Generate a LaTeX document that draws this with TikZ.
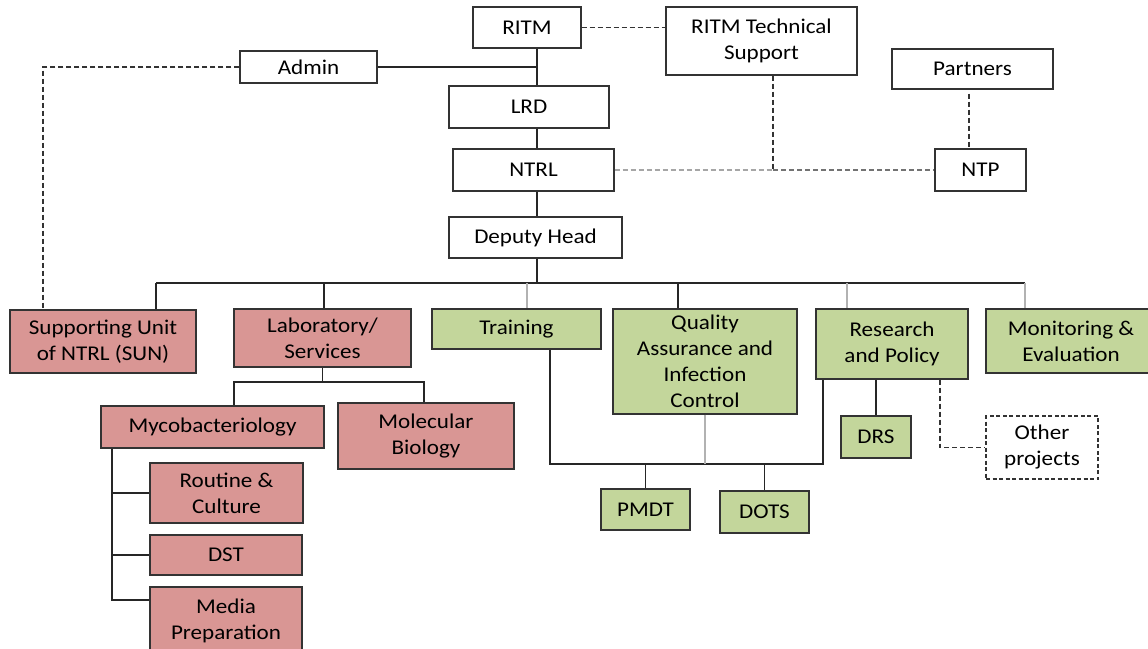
\documentclass[tikz,border=0pt]{standalone}
\usepackage{fontspec}
\setmainfont{Carlito}[FakeStretch=1.1]
\usepackage{tikz}

\definecolor{labred}{HTML}{D99694}
\definecolor{progreen}{HTML}{C3D69B}
\definecolor{boxline}{HTML}{333333}

\begin{document}
\begin{tikzpicture}[x=1pt,y=-1pt,
    unit/.style={draw=boxline,line width=1.3pt,align=center,inner sep=2pt,
      font=\fontsize{21}{26}\selectfont},
    labunit/.style={unit,fill=labred},
    progunit/.style={unit,fill=progreen},
    conn/.style={line width=1.4pt,black!85},
    softconn/.style={line width=2pt,black!30},
    dashconn/.style={line width=1.4pt,black!80,dash pattern=on 5pt off 3pt}]
      \useasboundingbox (0,0) rectangle (1148,648);
      \node[unit,minimum width=108,minimum height=41] (ritm) at (527,27.5) {RITM};
      \node[unit,minimum width=191,minimum height=68] (rts) at (761.5,41) {RITM Technical\\Support};
      \node[unit,minimum width=137,minimum height=32] (admin) at (308.5,67) {Admin};
      \node[unit,minimum width=161,minimum height=40] (partners) at (972.5,69) {Partners};
      \node[unit,minimum width=160,minimum height=42] (lrd) at (529,107) {LRD};
      \node[unit,minimum width=161,minimum height=42] (ntrl) at (533.5,170) {NTRL};
      \node[unit,minimum width=91,minimum height=42] (ntp) at (980.5,170) {NTP};
      \node[unit,minimum width=173,minimum height=41] (dep) at (535.5,237.5) {Deputy Head};
      \node[labunit,minimum width=186,minimum height=63] (sun) at (103,341.5) {Supporting Unit\\of NTRL (SUN)};
      \node[labunit,minimum width=177,minimum height=58] (lab) at (322.5,338) {Laboratory/\\Services};
      \node[progunit,minimum width=169,minimum height=40] (trn) at (516.5,329) {Training};
      \node[progunit,minimum width=184,minimum height=105] (qa) at (705,361.5) {Quality\\Assurance and\\Infection\\Control};
      \node[progunit,minimum width=152,minimum height=70] (rp) at (892,344) {Research\\and Policy};
      \node[progunit,minimum width=170,minimum height=64] (me) at (1071,341) {Monitoring \&\\Evaluation};
      \node[labunit,minimum width=223,minimum height=42] (myco) at (212.5,427) {Mycobacteriology};
      \node[labunit,minimum width=176,minimum height=66] (molbio) at (426,436) {Molecular\\Biology};
      \node[labunit,minimum width=153,minimum height=60] (rc) at (226.5,493) {Routine \&\\Culture};
      \node[labunit,minimum width=152,minimum height=40] (dst) at (226,555) {DST};
      \node[labunit,minimum width=152,minimum height=68] (media) at (226,621) {Media\\Preparation};
      \node[progunit,minimum width=89,minimum height=41] (pmdt) at (645.5,509.5) {PMDT};
      \node[progunit,minimum width=89,minimum height=42] (dots) at (764.5,512) {DOTS};
      \node[progunit,minimum width=70,minimum height=42] (drs) at (876,437) {DRS};
      \node[unit,dash pattern=on 4pt off 2.5pt,minimum width=112,minimum height=63] (other) at (1042,447.5) {Other\\projects};

      \coordinate (bus) at (537,283);
      \coordinate (bsun) at (156,283);
      \coordinate (bme) at (1025,283);
      \draw[conn] (ritm.south -| bus) -- (lrd.north -| bus);
      \draw[conn] (admin.east) -- (admin.east -| bus);
      \draw[conn] (lrd.south -| bus) -- (ntrl.north -| bus);
      \draw[conn] (ntrl.south -| bus) -- (dep.north -| bus);
      \draw[conn] (dep.south -| bus) -- (bus);
      \draw[conn] (bsun) -- (bme);
      \foreach \x/\n/\s in {156/sun/conn,324/lab/conn,527/trn/softconn,678/qa/conn,847/rp/softconn,1025/me/softconn}{
        \coordinate (drop) at (\x,283);
        \draw[\s] (drop) -- (drop |- \n.north);
      }

      \coordinate (sunlink) at (43,0);
      \coordinate (tsj) at (773,170);
      \coordinate (pj) at (969,0);
      \coordinate (oj) at (940,0);
      \draw[dashconn] (admin.west) -| (sunlink |- sun.north);
      \draw[dashconn] (ritm.east) -- (rts.west |- ritm.east);
      \draw[dashconn] (rts.south -| tsj) -- (tsj);
      \draw[dashconn,black!35] (ntrl.east) -- (tsj);
      \draw[dashconn,black!55] (tsj) -- (ntp.west);
      \draw[dashconn,shorten <=4pt] (partners.south -| pj) -- (ntp.north -| pj);
      \draw[dashconn] (rp.south -| oj) |- (other.west);

      \coordinate (lbl) at (234,382);
      \coordinate (lbr) at (424,382);
      \draw[conn] (lab.south) -- (lab.south |- lbl);
      \draw[conn] (lbl |- myco.north) -- (lbl) -- (lbr) -- (lbr |- molbio.north);
      \coordinate (mtrunk) at (112,600);
      \draw[conn] (myco.south -| mtrunk) -- (mtrunk) -- (mtrunk -| media.west);
      \draw[conn] (mtrunk |- rc.west) -- (rc.west);
      \draw[conn] (mtrunk |- dst.west) -- (dst.west);

      \coordinate (pj1) at (550,464);
      \coordinate (pj2) at (823,464);
      \draw[conn] (trn.south -| pj1) -- (pj1) -- (pj2) -- (rp.south -| pj2);
      \draw[softconn] (qa.south) -- (qa.south |- pj1);
      \draw[conn] (pmdt.north |- pj1) -- (pmdt.north);
      \draw[conn] (dots.north |- pj1) -- (dots.north);
      \draw[conn] (drs.north |- rp.south) -- (drs.north);
\end{tikzpicture}
\end{document}
